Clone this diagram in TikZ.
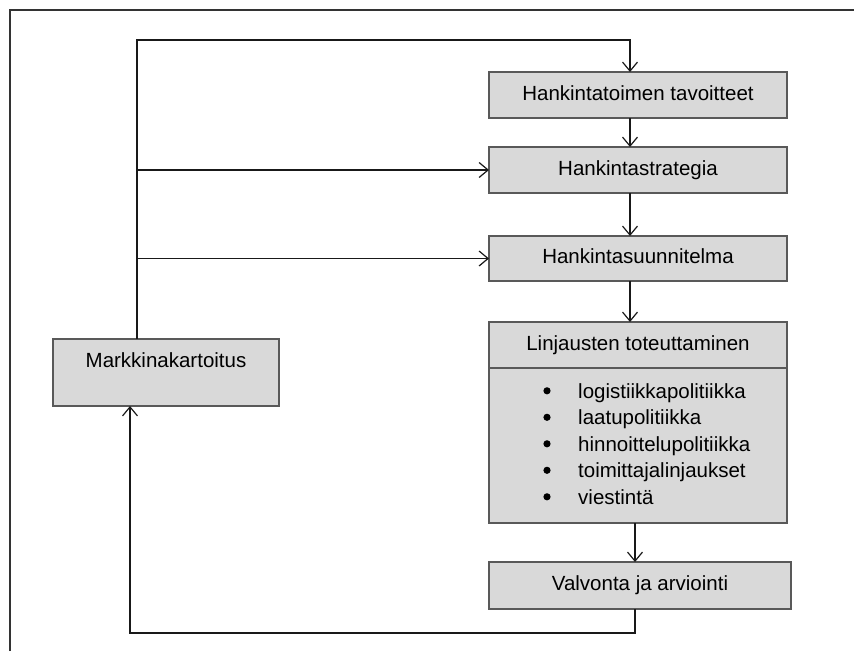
\documentclass[tikz,border=0pt]{standalone}
\usepackage{fontspec}
\setmainfont{Liberation Sans}
\usetikzlibrary{arrows.meta,calc}

\tikzset{
  box/.style={draw=black!65, line width=1.3pt, fill=black!15, inner sep=0pt, outer sep=0pt,
    font=\fontsize{20.5}{24}\selectfont, text height=15pt, text depth=5pt},
  conn/.style={draw=black!90, line width=1.3pt},
  arr/.style={-{Straight Barb[length=9pt,width=15pt,line width=1.2pt]}},
  frameline/.style={draw=black!80, line width=1.8pt},
  itemtext/.style={anchor=base west, inner sep=0pt, font=\fontsize{20.5}{24}\selectfont},
  listdot/.style={fill=black},
}

\begin{document}
\begin{tikzpicture}[x=1pt, y=-1pt]
  \useasboundingbox (0,0) rectangle (854,651);

  % page frame
  \draw[frameline] (10,651) -- (10,10) -- (854,10);

  % right-hand column of process steps
  \node[box, minimum width=298pt, minimum height=46pt] (t1) at (638,95) {Hankintatoimen tavoitteet};
  \node[box, minimum width=298pt, minimum height=46pt] (t2) at (638,170) {Hankintastrategia};
  \node[box, minimum width=298pt, minimum height=45pt] (t3) at (638,258.5) {Hankintasuunnitelma};
  \node[box, minimum width=298pt, minimum height=46pt] (lt) at (638,345) {Linjausten toteuttaminen};
  \node[box, minimum width=298pt, minimum height=155pt] (ll) at (638,445.5) {};
  \node[box, minimum width=302pt, minimum height=47pt] (vo) at (640,585.5) {Valvonta ja arviointi};

  % policy list inside the implementation box
  \foreach \t [count=\i] in {logistiikkapolitiikka, laatupolitiikka, hinnoittelupolitiikka,
                             toimittajalinjaukset, viestintä} {
    \node[itemtext] (item\i) at (578,{398+26.5*(\i-1)}) {\t};
    \fill[listdot] (547,{390.8+26.5*(\i-1)}) circle (3.6pt);
  }

  % market survey box on the left
  \node[box, minimum width=226pt, minimum height=67pt, text depth=26pt] (mk) at (166,372.5) {Markkinakartoitus};

  % routing coordinates
  \coordinate (c1) at (137,40);
  \coordinate (c2) at (130,633);
  \coordinate (ax) at (630,0);
  \coordinate (ay) at (635,0);

  % feedback from market survey to the plan levels
  \draw[conn, arr] (mk.north -| c1) -- (c1) -| (t1.north -| ax);
  \draw[conn, arr] (c1 |- t2.west) -- (t2.west);
  \draw[conn, arr] (c1 |- t3.west) -- (t3.west);

  % main flow
  \draw[conn, arr] (t1.south -| ax) -- (t2.north -| ax);
  \draw[conn, arr] (t2.south -| ax) -- (t3.north -| ax);
  \draw[conn, arr] (t3.south -| ax) -- (lt.north -| ax);
  \draw[conn, arr] (ll.south -| ay) -- (vo.north -| ay);

  % evaluation back to market survey
  \draw[conn, arr] (vo.south -| ay) |- (c2) -- (mk.south -| c2);
\end{tikzpicture}
\end{document}
